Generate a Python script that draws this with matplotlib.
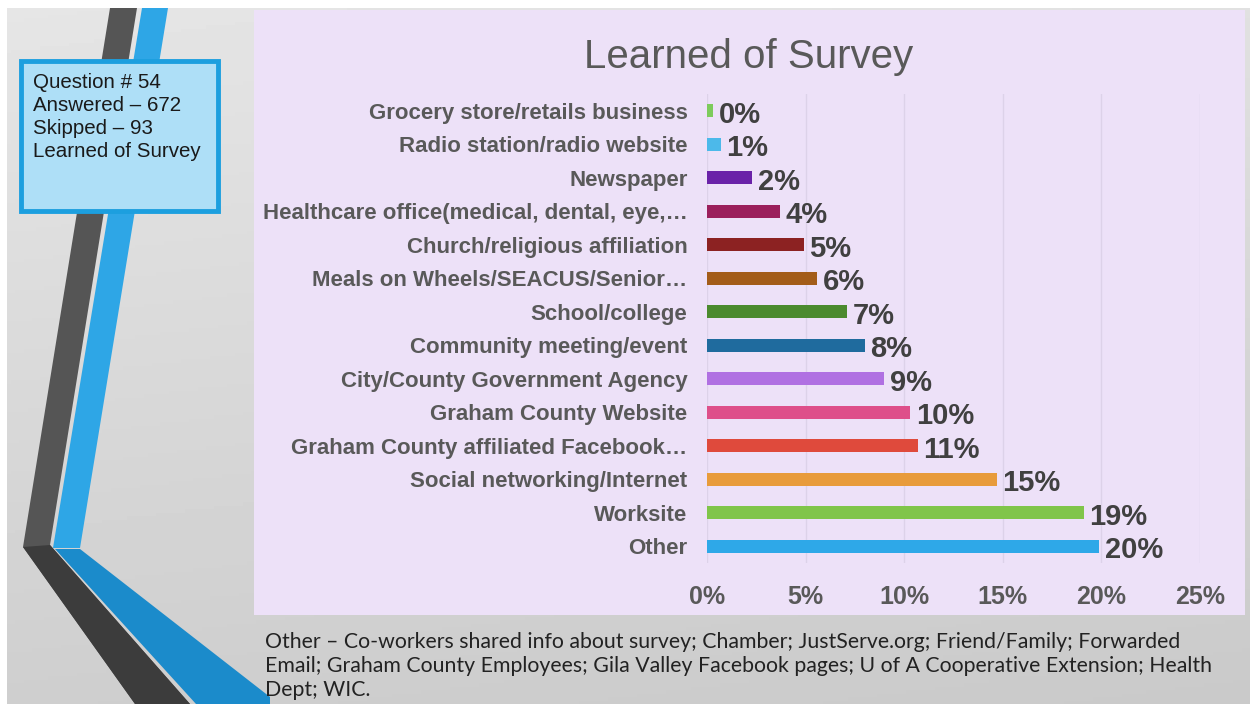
import numpy as np
import matplotlib.pyplot as plt
from matplotlib.patches import Polygon, Rectangle

# data (percent of respondents)
categories = [
    'Grocery store/retails business',
    'Radio station/radio website',
    'Newspaper',
    'Healthcare office(medical, dental, eye,…',
    'Church/religious affiliation',
    'Meals on Wheels/SEACUS/Senior…',
    'School/college',
    'Community meeting/event',
    'City/County Government Agency',
    'Graham County Website',
    'Graham County affiliated Facebook…',
    'Social networking/Internet',
    'Worksite',
    'Other',
]
values = [0.3, 0.7, 2.3, 3.7, 4.9, 5.6, 7.1, 8.0, 9.0, 10.3, 10.7, 14.7, 19.1, 19.9]
bar_colors = ['#7dcb5c', '#4cb9ea', '#6a22a8', '#9b1f5c', '#8c2222', '#a35c19',
              '#4b8a2e', '#1f6b9e', '#b070e2', '#de4f8a', '#df4a3c', '#e89b3b',
              '#80c54a', '#2ea8e8']
xticks = [0, 5, 10, 15, 20, 25]

info_lines = ['Question # 54', 'Answered – 672', 'Skipped – 93', 'Learned of Survey']
footnote = ('Other – Co-workers shared info about survey; Chamber; JustServe.org; Friend/Family; Forwarded\n'
            'Email; Graham County Employees; Gila Valley Facebook pages; U of A Cooperative Extension; Health\n'
            'Dept; WIC.')

W, H = 1250, 704
fig = plt.figure(figsize=(12.5, 7.04), dpi=100, facecolor='white')

# slide background in pixel coordinates
bg = fig.add_axes([0, 0, 1, 1], zorder=0)
bg.set_xlim(0, W)
bg.set_ylim(H, 0)
bg.axis('off')
yy, xx = np.mgrid[0:1:200j, 0:1:300j]
shade = 0.90 - 0.09 * yy - 0.02 * xx
bg.imshow(shade, cmap='gray', vmin=0, vmax=1, extent=[7, W, H, 8], aspect='auto', zorder=0)

# decorative stripes
bg.add_patch(Polygon([(110, 8), (137, 8), (50, 545), (190, 704), (135, 704), (23, 547)],
                     closed=True, facecolor='#555555', edgecolor='none', zorder=1))
bg.add_patch(Polygon([(23, 547), (50, 545), (190, 704), (135, 704)],
                     closed=True, facecolor='#3c3c3c', edgecolor='none', zorder=1))
bg.add_patch(Polygon([(142, 8), (168, 8), (80, 548), (53, 548)],
                     closed=True, facecolor='#2ea6e6', edgecolor='none', zorder=1))
bg.add_patch(Polygon([(55, 549), (80, 549), (270, 697), (270, 704), (196, 704)],
                     closed=True, facecolor='#1b8bcb', edgecolor='none', zorder=1))

# info box
bg.add_patch(Rectangle((21, 61), 197, 150, facecolor='#aedff7', edgecolor='#1c9fdf',
                       linewidth=3.5, zorder=2))
for i, line in enumerate(info_lines):
    bg.text(33, 82 + i * 23.3, line, fontsize=14.8, family='Liberation Sans',
            color='#1a1a1a', va='center', ha='left', zorder=3)

# chart panel
bg.add_patch(Rectangle((254, 10), 991, 605, facecolor='#ede1f8', edgecolor='none', zorder=2))
bg.text(749, 57, 'Learned of Survey', fontsize=29, family='Liberation Sans',
        color='#595959', ha='center', va='center', zorder=3)

bg.text(265, 666, footnote, fontsize=15.3, family='Lato', color='#222222',
        ha='left', va='center', linespacing=1.28, zorder=3)

# bar chart
ax = fig.add_axes([707 / W, 1 - 563 / H, (1200 - 707) / W, (563 - 94) / H], zorder=2)
ax.set_facecolor('none')
y = np.arange(len(categories))
ax.barh(y, values, height=0.38, color=bar_colors, zorder=3)
for yi, v in zip(y, values):
    ax.annotate(f'{round(v)}%', (v, yi), xytext=(4, -3), textcoords='offset points',
                fontsize=21, fontweight='bold', family='Liberation Sans',
                color='#404040', ha='left', va='center')

ax.set_xlim(0, 25)
ax.set_ylim(len(categories) - 0.5, -0.5)
ax.set_xticks(xticks)
ax.set_xticklabels([f'{t}%' for t in xticks])
ax.set_yticks(y)
ax.set_yticklabels(categories)
ax.tick_params(axis='x', length=0, pad=16, labelsize=18, labelcolor='#595959')
ax.tick_params(axis='y', length=0, pad=14, labelsize=16, labelcolor='#595959')
for lab in ax.get_xticklabels() + ax.get_yticklabels():
    lab.set_fontweight('bold')
    lab.set_family('Liberation Sans')
ax.grid(axis='x', color='#ddd2e9', linewidth=1, zorder=0)
for s in ax.spines.values():
    s.set_visible(False)

fig.savefig('out.png', dpi=100, facecolor=fig.get_facecolor())
